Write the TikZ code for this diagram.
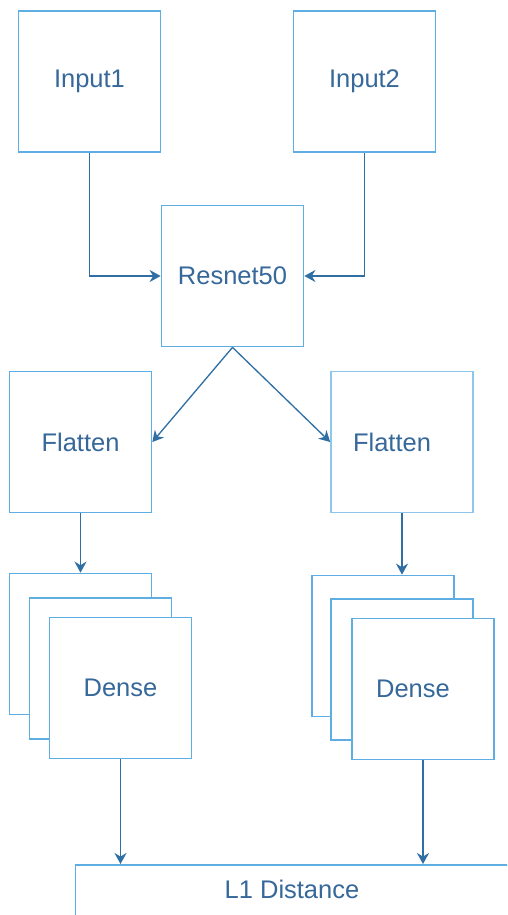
\documentclass[tikz,border=0pt]{standalone}
\usepackage{fontspec}
\setmainfont{Liberation Sans}
\usepackage{tikz}
\usepackage{xcolor}
\usetikzlibrary{arrows.meta}

\definecolor{boxblue}{HTML}{5FAEE3}
\definecolor{arrowblue}{HTML}{2F6FA3}
\definecolor{textblue}{HTML}{36689A}

\begin{document}
\begin{tikzpicture}[x=0.02cm, y=-0.02cm,
    layer/.style={rectangle, draw=boxblue, fill=white, line width=1pt,
        minimum width=2.84cm, minimum height=2.82cm, inner sep=0pt,
        text=textblue, font=\fontsize{14.5}{17}\selectfont},
    flow/.style={-{Stealth[length=0.22cm, width=0.24cm]}, draw=arrowblue, line width=1.05pt}]
    \clip (0,0) rectangle (507,915);
    \useasboundingbox (0,0) rectangle (507,915);

    % Nodes
    \node[layer] (in1) at (89.5,81.5) {Input1};
    \node[layer] (in2) at (364.5,81.5) {Input2};
    \node[layer] (resnet) at (232.5,276) {Resnet50};
    \node[layer] (flat1) at (80.5,442) {Flatten};
    \node[layer, draw=boxblue!70] (flat2) at (402,442) {Flatten\hspace*{0.4cm}};

    % Dense stacks
    \node[layer] (dense1c) at (80.5,644) {};
    \node[layer] (dense1b) at (100.5,668.5) {};
    \node[layer] (dense1) at (120.5,688) {Dense};
    \node[layer] (dense2c) at (383,646) {};
    \node[layer] (dense2b) at (402,669.5) {};
    \node[layer] (dense2) at (423,689) {Dense\hspace*{0.4cm}};

    % Result
    \node[layer, minimum width=8.9cm, minimum height=1.2cm, anchor=north] (l1) at (298,864) {};
    \node[text=textblue, font=\fontsize{14.5}{17}\selectfont] (l1text) at (292,889) {L1 Distance};

    % Edges
    \draw[flow] (in1.south) |- (resnet.west);
    \draw[flow] (in2.south) |- (resnet.east);
    \draw[flow, line width=0.75pt] (resnet.south) -- (flat1.east);
    \draw[flow, line width=0.75pt] (resnet.south) -- (flat2.west);
    \draw[flow] (flat1.south) -- (dense1c.north);
    \draw[flow] (flat2.south) -- (flat2.south |- dense2c.north);
    \draw[flow] (dense1.south) -- (dense1.south |- l1.north);
    \draw[flow] (dense2.south) -- (dense2.south |- l1.north);

\end{tikzpicture}
\end{document}
